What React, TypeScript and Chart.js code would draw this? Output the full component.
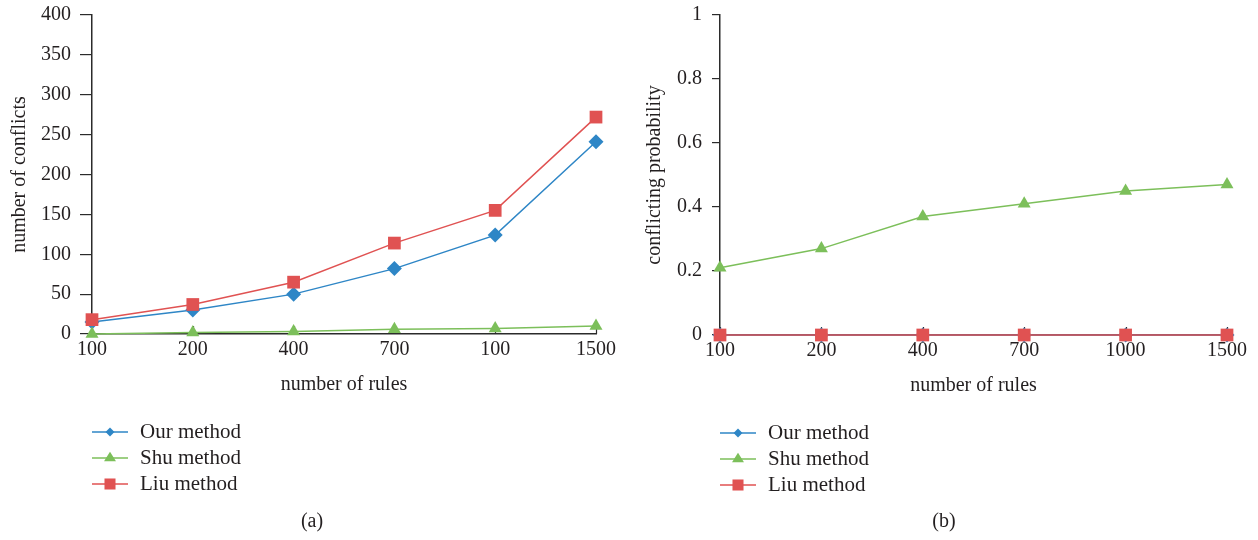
import React, { useEffect, useRef } from 'react';
import { Chart, registerables } from 'chart.js';

Chart.register(...registerables);

// ---- data ----
const seriesNames = ['Our method', 'Shu method', 'Liu method'];
const leftCategories = ['100', '200', '400', '700', '100', '1500'];
const leftOur = [15, 30, 50, 82, 124, 241];
const leftShu = [0, 2, 3, 6, 7, 10];
const leftLiu = [18, 37, 65, 114, 155, 272];
const rightCategories = ['100', '200', '400', '700', '1000', '1500'];
const rightOur = [0, 0, 0, 0, 0, 0];
const rightShu = [0.21, 0.27, 0.37, 0.41, 0.45, 0.47];
const rightLiu = [0, 0, 0, 0, 0, 0];

const FONT = "'Liberation Serif', 'Times New Roman', serif";
const TEXT = '#231f20';
const AXIS = '#2b2b2b';
const BLUE = '#2e86c6';
const GREEN = '#7cbf5a';
const RED = '#e05252';
const COLORS = [BLUE, GREEN, RED];
const STYLES = ['rectRot', 'triangle', 'rect'];
const RADII = [7.5, 7.5, 9];
const ORDERS = [2, 1, 0];

function drawMarker(ctx: CanvasRenderingContext2D, style: string, x: number, y: number, r: number, color: string) {
  ctx.save();
  ctx.fillStyle = color;
  ctx.beginPath();
  if (style === 'rectRot') {
    const s = r * Math.SQRT1_2;
    ctx.moveTo(x - s, y);
    ctx.lineTo(x, y - s);
    ctx.lineTo(x + s, y);
    ctx.lineTo(x, y + s);
  } else if (style === 'triangle') {
    const h = r * 1.5;
    const w = r * 0.866;
    ctx.moveTo(x, y - r);
    ctx.lineTo(x + w + 0.5, y + h - r);
    ctx.lineTo(x - w - 0.5, y + h - r);
  } else {
    const s = r * Math.SQRT1_2;
    ctx.rect(x - s, y - s, 2 * s, 2 * s);
  }
  ctx.closePath();
  ctx.fill();
  ctx.restore();
}

interface PanelProps {
  categories: string[];
  series: number[][];
  yMax: number;
  yStep: number;
  yTitle: string;
  yTickLen: number;
  yTickPad: number;
  yTitlePad: number;
  yWidth: number;
  padRight: number;
  padBottom: number;
  legendX: number;
  legendY: number;
  caption: string;
  captionX: number;
}

function Panel(p: PanelProps) {
  const ref = useRef<HTMLCanvasElement | null>(null);
  useEffect(() => {
    if (!ref.current) return;
    const decor = {
      id: 'decor',
      beforeDatasetsDraw(chart: any) {
        const ctx = chart.ctx;
        const xs = chart.scales.x;
        const bottom = chart.chartArea.bottom;
        ctx.save();
        ctx.strokeStyle = AXIS;
        ctx.lineWidth = 1.2;
        for (let i = 0; i < xs.ticks.length; i++) {
          const px = Math.round(xs.getPixelForTick(i)) + 0.5;
          ctx.beginPath();
          ctx.moveTo(px, bottom);
          ctx.lineTo(px, bottom - 8);
          ctx.stroke();
        }
        ctx.restore();
      },
      afterDraw(chart: any) {
        const ctx = chart.ctx;
        ctx.save();
        seriesNames.forEach((name, i) => {
          const y = p.legendY + i * 26;
          ctx.strokeStyle = COLORS[i];
          ctx.lineWidth = 1.6;
          ctx.beginPath();
          ctx.moveTo(p.legendX, y);
          ctx.lineTo(p.legendX + 36, y);
          ctx.stroke();
          drawMarker(ctx, STYLES[i], p.legendX + 18, y, RADII[i] - 1.2, COLORS[i]);
          ctx.fillStyle = TEXT;
          ctx.font = `21px ${FONT}`;
          ctx.textAlign = 'left';
          ctx.textBaseline = 'middle';
          ctx.fillText(name, p.legendX + 48, y);
        });
        ctx.font = `20px ${FONT}`;
        ctx.textAlign = 'center';
        ctx.textBaseline = 'middle';
        ctx.fillStyle = TEXT;
        ctx.fillText(p.caption, p.captionX, 522);
        ctx.restore();
      },
    };
    const chart = new Chart(ref.current, {
      type: 'line',
      data: {
        labels: p.categories,
        datasets: p.series.map((vals, i) => ({
          label: seriesNames[i],
          data: vals,
          borderColor: COLORS[i],
          backgroundColor: COLORS[i],
          borderWidth: 1.5,
          pointStyle: STYLES[i] as any,
          pointRadius: RADII[i],
          pointBorderWidth: 0,
          pointBackgroundColor: COLORS[i],
          pointBorderColor: COLORS[i],
          tension: 0,
          clip: false as any,
          order: ORDERS[i],
        })),
      },
      options: {
        animation: false,
        responsive: false,
        devicePixelRatio: 1,
        layout: { padding: { left: 0, top: 15, right: p.padRight, bottom: p.padBottom } },
        plugins: { legend: { display: false }, tooltip: { enabled: false } },
        scales: {
          x: {
            type: 'category',
            offset: false,
            ticks: {
              autoSkip: false,
              maxRotation: 0,
              minRotation: 0,
              padding: 4,
              color: TEXT,
              font: { family: FONT, size: 20 },
            },
            grid: { display: false, drawTicks: false },
            border: { display: true, color: AXIS, width: 1.5 },
            title: {
              display: true,
              text: 'number of rules',
              color: TEXT,
              font: { family: FONT, size: 20 },
              padding: { top: 0, bottom: 4 },
            },
            afterFit: (s: any) => {
              s.height = 67;
              s.paddingLeft = 0;
              s.paddingRight = 0;
            },
          },
          y: {
            min: 0,
            max: p.yMax,
            ticks: {
              stepSize: p.yStep,
              padding: p.yTickPad,
              color: TEXT,
              font: { family: FONT, size: 20 },
              callback: (v: any) => String(Number(Number(v).toFixed(2))),
            },
            grid: {
              display: true,
              drawOnChartArea: false,
              drawTicks: true,
              tickLength: p.yTickLen,
              color: AXIS,
              lineWidth: 1.2,
            },
            border: { display: true, color: AXIS, width: 1.5 },
            title: {
              display: true,
              text: p.yTitle,
              color: TEXT,
              font: { family: FONT, size: 20 },
              padding: { top: p.yTitlePad, bottom: 0 },
            },
            afterFit: (s: any) => {
              s.width = p.yWidth;
              s.paddingTop = 0;
              s.paddingBottom = 0;
            },
          },
        },
      } as any,
      plugins: [decor],
    });
    return () => chart.destroy();
  }, []);
  return <canvas ref={ref} width={629} height={540} style={{ width: 629, height: 540, display: 'block' }} />;
}

export default function App() {
  useEffect(() => {
    document.body.style.margin = '0';
    document.body.style.background = '#ffffff';
  }, []);
  return (
    <div style={{ display: 'flex', width: 1258, height: 540, background: '#fff' }}>
      <Panel
        categories={leftCategories}
        series={[leftOur, leftShu, leftLiu]}
        yMax={400}
        yStep={50}
        yTitle="number of conflicts"
        yTickLen={12}
        yTickPad={9}
        yTitlePad={8}
        yWidth={92}
        padRight={33}
        padBottom={139}
        legendX={92}
        legendY={432}
        caption="(a)"
        captionX={312}
      />
      <Panel
        categories={rightCategories}
        series={[rightOur, rightShu, rightLiu]}
        yMax={1}
        yStep={0.2}
        yTitle="conflicting probability"
        yTickLen={8}
        yTickPad={10}
        yTitlePad={14}
        yWidth={91}
        padRight={31}
        padBottom={138}
        legendX={91}
        legendY={433}
        caption="(b)"
        captionX={315}
      />
    </div>
  );
}
